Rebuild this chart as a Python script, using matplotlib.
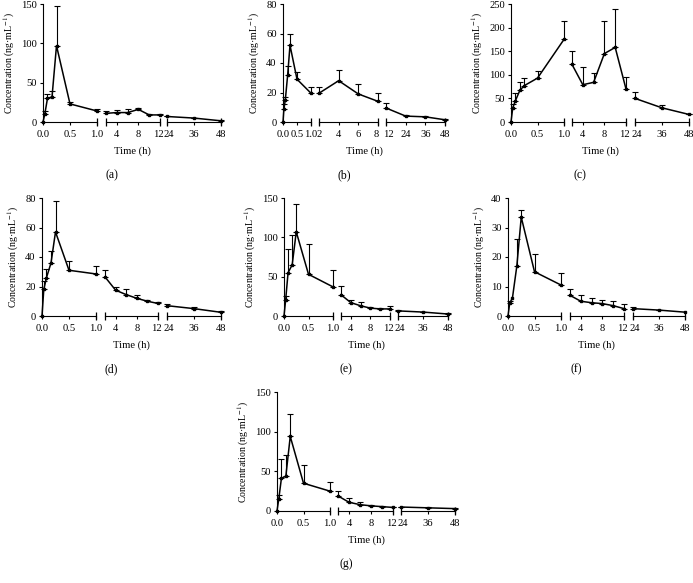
import numpy as np
import matplotlib
matplotlib.use("Agg")
import matplotlib.pyplot as plt
from matplotlib.transforms import ScaledTranslation

plt.rcParams['font.family'] = ['Liberation Serif', 'DejaVu Serif']
plt.rcParams['mathtext.fontset'] = 'stix'

W, H = 693, 583

# ---- data ----
times_std = [0, 0.033, 0.083, 0.167, 0.25, 0.5, 1.0, 2, 4, 6, 8, 10, 12, 24, 36, 48]
times_b = [0, 0.033, 0.083, 0.167, 0.25, 0.5, 1.0, 2, 4, 6, 8, 12, 24, 36, 48]

mean_a = [0, 10, 30, 32, 97, 23, 14, 11, 12, 12, 16, 9, 9, 7, 5, 1.5]
sd_a = [0, 4, 6, 8, 51, 3, 2, 3, 3, 5, 2, 1, 1, 0.5, 0.5, 1.5]

mean_b = [0, 9, 15, 32, 52, 29, 19.5, 19.5, 28, 19, 14, 9.5, 4, 3.5, 1.5]
sd_b = [0, 3, 2, 6, 8, 5, 4.5, 4.5, 7, 7, 6, 3.5, 0.5, 0.5, 0.5]

mean_c = [0, 30, 45, 67, 77, 93, 175, 122, 79, 84, 145, 158, 70, 50, 30, 16]
sd_c = [0, 8, 17, 17, 17, 15, 38, 28, 38, 20, 70, 82, 25, 14, 5, 1]

mean_d = [0, 18, 26, 36, 57, 31, 28.5, 26.5, 17.5, 14.5, 12, 10, 8.5, 7, 5, 2.5]
sd_d = [0, 6, 6, 8, 21, 6, 5.5, 5, 2.5, 3.5, 2, 1, 1, 1, 1, 1]

mean_e = [0, 20, 55, 65, 107, 53, 37, 27, 17, 13, 10, 9, 9, 6.5, 5, 2.5]
sd_e = [0, 5, 30, 38, 36, 38, 21, 11, 3, 5, 2, 1.5, 4, 0.5, 0.5, 1]

mean_f = [0, 4.5, 6, 17, 33.5, 15, 10.5, 7, 5, 4.5, 4.2, 3.5, 2.5, 2.5, 2, 1.3]
sd_f = [0, 0.5, 0, 9, 2.5, 6, 4, 2, 2, 1.5, 1.3, 1.5, 1.5, 0.5, 0.2, 0]

mean_g = [0, 15, 41, 44, 94, 35, 25, 19, 11, 8, 6.5, 5.5, 4.5, 5, 4, 3]
sd_g = [0, 5, 24, 26, 28, 23, 12, 6, 5, 3, 1.5, 0.5, 0.5, 0.5, 0.5, 0.5]

seg_std = [(0, 1.0), (2, 12), (24, 48)]
seg_b = [(0, 1.0), (2, 8), (12, 48)]
xt_std = [[0.0, 0.5, 1.0], [4, 8, 12], [24, 36, 48]]
xt_b = [[0.0, 0.5, 1.0], [2, 4, 6, 8], [12, 24, 36, 48]]
xtl_std = [["0.0", "0.5", "1.0"], ["4", "8", "12"], ["24", "36", "48"]]
xtl_b = [["0.0", "0.5", "1.0"], ["2", "4", "6", "8"], ["12", "24", "36", "48"]]

panels = [
    dict(label="(a)", t=times_std, m=mean_a, s=sd_a, yt=[0, 50, 100, 150], seg=seg_std, xt=xt_std, xtl=xtl_std,
         top=4, bot=122, px=[(43, 97), (106, 160), (167, 221)]),
    dict(label="(b)", t=times_b, m=mean_b, s=sd_b, yt=[0, 20, 40, 60, 80], seg=seg_b, xt=xt_b, xtl=xtl_b,
         top=4, bot=122, px=[(283, 311), (319, 378), (386, 445)]),
    dict(label="(c)", t=times_std, m=mean_c, s=sd_c, yt=[0, 50, 100, 150, 200, 250], seg=seg_std, xt=xt_std, xtl=xtl_std,
         top=4, bot=122, px=[(511, 564), (572, 626), (635, 689)]),
    dict(label="(d)", t=times_std, m=mean_d, s=sd_d, yt=[0, 20, 40, 60, 80], seg=seg_std, xt=xt_std, xtl=xtl_std,
         top=198, bot=316, px=[(42, 96), (105, 158), (167, 221)]),
    dict(label="(e)", t=times_std, m=mean_e, s=sd_e, yt=[0, 50, 100, 150], seg=seg_std, xt=xt_std, xtl=xtl_std,
         top=198, bot=316, px=[(284, 333), (341, 390), (398, 448)]),
    dict(label="(f)", t=times_std, m=mean_f, s=sd_f, yt=[0, 10, 20, 30, 40], seg=seg_std, xt=xt_std, xtl=xtl_std,
         top=198, bot=316, px=[(508, 561), (570, 624), (633, 685)]),
    dict(label="(g)", t=times_std, m=mean_g, s=sd_g, yt=[0, 50, 100, 150], seg=seg_std, xt=xt_std, xtl=xtl_std,
         top=392, bot=511, px=[(277, 330), (338, 393), (401, 455)]),
]

fig = plt.figure(figsize=(W / 100, H / 100), dpi=100)
FS = 7.6

for p in panels:
    t = np.array(p["t"], float)
    m = np.array(p["m"], float)
    s = np.array(p["s"], float)
    for k, ((x0, x1), (lo, hi)) in enumerate(zip(p["px"], p["seg"])):
        ax = fig.add_axes([x0 / W, 1 - p["bot"] / H, (x1 - x0) / W, (p["bot"] - p["top"]) / H])
        ax.patch.set_alpha(0)
        sel = (t >= lo - 1e-9) & (t <= hi + 1e-9)
        ts, ms, ss = t[sel], m[sel], s[sel]
        ax.plot(ts, ms, color='black', lw=1.1, marker='s', ms=1.8, clip_on=False, zorder=3)
        e = ss > 0
        ax.errorbar(ts[e], ms[e], yerr=[np.zeros(e.sum()), ss[e]], fmt='none', ecolor='black',
                    elinewidth=0.8, capsize=2, capthick=0.8, clip_on=False, zorder=2)
        ax.set_xlim(lo, hi)
        ax.set_ylim(0, p["yt"][-1])
        ax.set_xticks(p["xt"][k])
        ax.set_xticklabels(p["xtl"][k], fontsize=FS)
        for sp in ['top', 'right']:
            ax.spines[sp].set_visible(False)
        ax.spines['bottom'].set_linewidth(0.8)
        ax.tick_params(axis='x', direction='out', length=2.5, width=0.8, pad=3)
        labs = ax.get_xticklabels()
        # nudge adjoining labels at the segment joins so they sit side by side
        if k == 1:
            lab = labs[-1]
            lab.set_transform(lab.get_transform() + ScaledTranslation(-2 / 100, 0, fig.dpi_scale_trans))
        if k == 2:
            lab = labs[0]
            lab.set_transform(lab.get_transform() + ScaledTranslation(2 / 100, 0, fig.dpi_scale_trans))
        if k == 0:
            ax.spines['left'].set_linewidth(0.8)
            ax.set_yticks(p["yt"])
            ax.set_yticklabels([str(v) for v in p["yt"]], fontsize=FS)
            ax.tick_params(axis='y', direction='out', length=2.5, width=0.8, pad=2)
            ax.set_ylabel("Concentration (ng·mL$^{-1}$)", fontsize=7.1, labelpad=3)
        else:
            ax.spines['left'].set_visible(False)
            ax.set_yticks([])
            ax.plot([0], [0], transform=ax.transAxes, marker='|', ms=6, mew=0.9,
                    color='black', clip_on=False)
        ax.plot([1], [0], transform=ax.transAxes, marker='|', ms=6, mew=0.9,
                color='black', clip_on=False)
    xmid = (p["px"][0][0] + p["px"][2][1]) / 2
    fig.text(xmid / W, 1 - (p["bot"] + 29) / H, "Time (h)", fontsize=FS, ha='center', va='center')
    fig.text((xmid - 20) / W, 1 - (p["bot"] + 53) / H, p["label"], fontsize=8.5, ha='center', va='center')

fig.savefig("out.png", dpi=100)
